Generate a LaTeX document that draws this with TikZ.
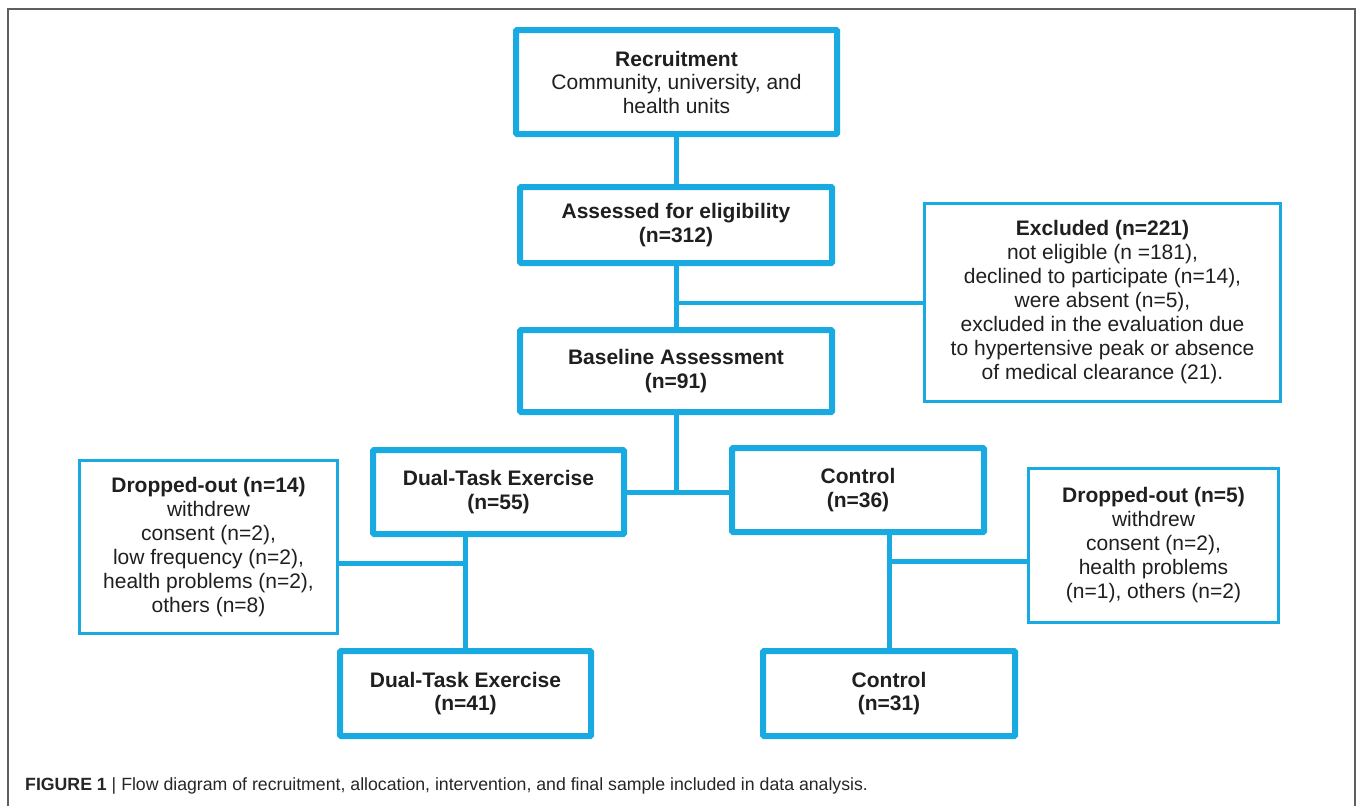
\documentclass[tikz,border=0pt]{standalone}
\usepackage{fontspec}
\setmainfont{Liberation Sans}
\usetikzlibrary{positioning,calc}
\definecolor{boxblue}{RGB}{25,170,226}
\definecolor{framegray}{RGB}{95,95,95}

\tikzset{
  stage/.style={draw=boxblue, line width=6pt, rounded corners=1pt, fill=white,
    align=center, inner sep=0pt, text=black!88, font=\fontsize{21}{23.5}\selectfont},
  side/.style={draw=boxblue, line width=2.5pt, fill=white,
    align=center, inner sep=0pt, text=black!88, font=\fontsize{21}{24}\selectfont},
  link/.style={draw=boxblue, line width=5pt},
}

\begin{document}
\begin{tikzpicture}[x=1pt,y=-1pt]

\useasboundingbox (0,0) rectangle (1357,806);

%---------------------------------------
% Frame (open at the bottom)
%---------------------------------------
\draw[framegray, line width=1.5pt] (8,806) -- (8,9) -- (1355,9) -- (1355,806);

\def\ydropL{563}
\def\ydropR{561}

%====================================================
% Main column
%====================================================
\node[stage, minimum width=321pt, minimum height=104pt] (recruit) at (676.5,82)
  {\textbf{Recruitment}\\Community, university, and\\health units};
\node[stage, minimum width=312pt, minimum height=76pt] (assess) at (676,225)
  {\textbf{Assessed for eligibility}\\\textbf{(n=312)}};
\node[stage, minimum width=312pt, minimum height=82pt] (base) at (676,371)
  {\textbf{Baseline Assessment}\\\textbf{(n=91)}};

% Excluded
\node[side, minimum width=356pt, minimum height=198pt] (excl) at (1102.5,302.5)
  {\textbf{Excluded (n=221)}\\not eligible (n =181),\\declined to participate (n=14),\\
   were absent (n=5),\\excluded in the evaluation due\\to hypertensive peak or absence\\
   of medical clearance (21).};

%====================================================
% Allocation
%====================================================
\node[stage, minimum width=251pt, minimum height=84pt] (dtA) at (498.5,492)
  {\textbf{Dual-Task Exercise}\\\textbf{(n=55)}};
\node[stage, minimum width=252pt, minimum height=84pt] (ctlA) at (858,490)
  {\textbf{Control}\\\textbf{(n=36)}};

% Drop-outs
\node[side, minimum width=258pt, minimum height=173pt] (doL) at (208.5,547)
  {\textbf{Dropped-out (n=14)}\\withdrew\\consent (n=2),\\low frequency (n=2),\\
   health problems (n=2),\\others (n=8)};
\node[side, minimum width=250pt, minimum height=154pt] (doR) at (1153.5,545.5)
  {\textbf{Dropped-out (n=5)}\\withdrew\\consent (n=2),\\health problems\\(n=1), others (n=2)};

%====================================================
% Final sample
%====================================================
\node[stage, minimum width=251pt, minimum height=85pt] (dtB) at (465.5,693.5)
  {\textbf{Dual-Task Exercise}\\\textbf{(n=41)}};
\node[stage, minimum width=252pt, minimum height=85pt] (ctlB) at (889,693.5)
  {\textbf{Control}\\\textbf{(n=31)}};

%---------------------------------------
% Connectors
%---------------------------------------
\draw[link] (recruit.south) -- (recruit.south |- assess.north);
\draw[link] (assess.south) -- (assess.south |- base.north);
\coordinate (exjoin) at (assess.south |- excl.west);
\draw[link, line width=4pt] (exjoin) -- (excl.west);

\draw[link] (base.south) -- (base.south |- dtA.east);
\draw[link] (dtA.east) -- (dtA.east -| ctlA.west);

\coordinate (dropL) at (0,\ydropL);
\coordinate (dropR) at (0,\ydropR);
\draw[link] (dtB.north |- dtA.south) -- (dtB.north);
\draw[link] (doL.east |- dropL) -- (dtB.north |- dropL);
\draw[link] (ctlB.north |- ctlA.south) -- (ctlB.north);
\draw[link] (ctlB.north |- dropR) -- (doR.west |- dropR);

%---------------------------------------
% Caption
%---------------------------------------
\node[anchor=base west, inner sep=0pt, text=black!85, font=\fontsize{17.7}{20}\selectfont]
  (caption) at (25,790)
  {\textbf{FIGURE 1} | Flow diagram of recruitment, allocation, intervention, and final sample included in data analysis.};

\end{tikzpicture}
\end{document}
